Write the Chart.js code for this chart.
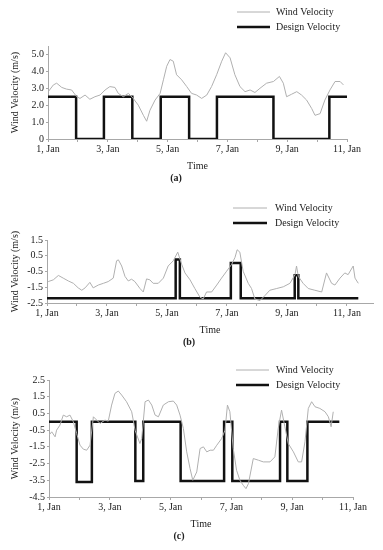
<!DOCTYPE html>
<html>
<head>
<meta charset="utf-8">
<script src="https://cdn.jsdelivr.net/npm/chart.js@4.4.1/dist/chart.umd.min.js"></script>
<style>
  body { margin: 0; background: #fff; }
  #wrap { position: relative; width: 383px; height: 550px; }
  #wrap canvas { position: absolute; left: 0; }
</style>
</head>
<body>
<div id="wrap">
  <canvas id="chartA" width="383" height="186" style="top:0px"></canvas>
  <canvas id="chartB" width="383" height="166" style="top:186px"></canvas>
  <canvas id="chartC" width="383" height="198" style="top:352px"></canvas>
</div>
<script>
// x axis: days since 1 Jan, labels every second day
const xTickDays = [0, 1, 2, 3, 4, 5, 6, 7, 8, 9, 10];
const xTickLabels = ['1, Jan', '', '3, Jan', '', '5, Jan', '', '7, Jan', '', '9, Jan', '', '11, Jan'];

// (a)
const yTicksA = [0, 1, 2, 3, 4, 5];
const yLabelsA = ['0', '1.0', '2.0', '3.0', '4.0', '5.0'];
const windDaysA = [0.01, 0.18, 0.29, 0.46, 0.62, 0.79, 0.96, 1.07, 1.24, 1.40, 1.57, 1.74, 1.91, 2.07, 2.24, 2.35,
  2.52, 2.69, 2.85, 3.02, 3.19, 3.30, 3.41, 3.58, 3.75, 3.86, 3.97, 4.08, 4.19, 4.30, 4.47, 4.64, 4.80, 4.97,
  5.14, 5.31, 5.47, 5.64, 5.81, 5.94, 6.09, 6.25, 6.42, 6.59, 6.76, 6.92, 7.09, 7.31, 7.54, 7.74, 7.87, 7.98,
  8.15, 8.32, 8.48, 8.65, 8.82, 8.93, 9.10, 9.26, 9.43, 9.60, 9.77, 9.88];
const windValsA = [2.8, 3.2, 3.3, 3.05, 2.95, 2.9, 2.5, 2.4, 2.6, 2.35, 2.5, 2.6, 2.9, 3.1, 3.05, 2.7,
  2.5, 2.7, 2.4, 2.0, 1.4, 1.05, 1.7, 2.3, 2.7, 3.5, 4.3, 4.7, 4.6, 3.8, 3.5, 3.1, 2.7, 2.6,
  2.4, 2.6, 3.1, 3.8, 4.6, 5.1, 4.8, 3.8, 3.1, 2.8, 2.9, 2.75, 3.0, 3.3, 3.4, 3.7, 3.3, 2.5,
  2.65, 2.8, 2.6, 2.3, 1.8, 1.4, 1.5, 2.3, 2.9, 3.4, 3.4, 3.2];
const designDaysA = [0, 0.94, 1.87, 2.82, 3.77, 4.72, 5.65, 7.54, 9.41, 10.0];
const designValsA = [2.5, 0, 2.5, 0, 2.5, 0, 2.5, 0, 2.5, 2.5];

// (b)
const yTicksB = [-2.5, -1.5, -0.5, 0.5, 1.5];
const yLabelsB = ['-2.5', '-1.5', '-0.5', '0.5', '1.5'];
const windDaysB = [0.04, 0.21, 0.38, 0.54, 0.71, 0.88, 1.04, 1.16, 1.27, 1.43, 1.54, 1.71, 1.88, 2.04, 2.21, 2.32,
  2.38, 2.49, 2.60, 2.71, 2.82, 2.93, 3.10, 3.21, 3.32, 3.43, 3.54, 3.71, 3.88, 4.04, 4.21, 4.36, 4.49, 4.60,
  4.77, 4.93, 5.10, 5.21, 5.32, 5.49, 5.66, 5.82, 5.99, 6.16, 6.27, 6.34, 6.43, 6.54, 6.71, 6.82, 6.93, 7.10,
  7.27, 7.43, 7.66, 7.88, 8.10, 8.27, 8.32, 8.38, 8.54, 8.71, 8.93, 9.16, 9.32, 9.49, 9.60, 9.77, 9.93, 10.04,
  10.21, 10.27, 10.38];
const windValsB = [-1.14, -1.03, -0.75, -0.92, -1.10, -1.25, -1.54, -1.69, -1.54, -1.19, -1.54, -1.36, -1.25, -1.14, -0.92, 0.18,
  0.24, -0.15, -0.81, -1.10, -0.99, -1.14, -1.58, -1.80, -0.97, -1.03, -1.25, -1.25, -0.92, -0.15, 0.18, 0.73, -0.04, -0.59,
  -1.03, -1.58, -2.13, -2.24, -1.80, -1.80, -1.36, -0.92, -0.48, -0.04, 0.40, 0.88, 0.73, -0.48, -1.25, -1.58, -2.24, -2.35,
  -2.02, -1.69, -1.58, -1.47, -1.25, -0.70, -0.15, -0.81, -1.25, -1.58, -1.69, -1.80, -0.59, -1.25, -1.36, -0.92, -0.59, -0.70,
  -0.15, -0.92, -1.25];
const designDaysB = [0, 4.29, 4.43, 6.13, 6.46, 8.26, 8.38, 10.38];
const designValsB = [-2.2, 0.26, -2.2, 0.04, -2.2, -0.74, -2.2, -2.2];

// (c)
const yTicksC = [-4.5, -3.5, -2.5, -1.5, -0.5, 0.5, 1.5, 2.5];
const yLabelsC = ['-4.5', '-3.5', '-2.5', '-1.5', '-0.5', '0.5', '1.5', '2.5'];
const windDaysC = [0, 0.09, 0.20, 0.25, 0.36, 0.47, 0.58, 0.69, 0.80, 0.91, 1.02, 1.13, 1.24, 1.35, 1.46, 1.57,
  1.68, 1.84, 1.95, 2.06, 2.17, 2.28, 2.39, 2.55, 2.72, 2.83, 2.99, 3.05, 3.16, 3.27, 3.38, 3.49, 3.60, 3.76,
  3.93, 4.09, 4.20, 4.31, 4.42, 4.53, 4.64, 4.73, 4.86, 4.97, 5.08, 5.19, 5.30, 5.41, 5.52, 5.68, 5.79, 5.87,
  5.95, 6.06, 6.17, 6.28, 6.39, 6.48, 6.56, 6.72, 6.89, 7.05, 7.27, 7.43, 7.54, 7.65, 7.76, 7.87, 8.04, 8.20,
  8.31, 8.42, 8.53, 8.64, 8.75, 8.91, 9.08, 9.19, 9.28, 9.35];
const windValsC = [-0.8, -0.6, -0.9, -0.5, -0.2, 0.4, 0.3, 0.4, 0.0, -0.7, -1.4, -1.64, -1.7, -1.4, 0.3, 0.1,
  -0.1, 0.1, 0.04, 1.0, 1.7, 1.84, 1.6, 1.2, 0.6, -0.5, -1.3, -1.0, 1.2, 1.3, 1.0, 0.4, 0.3, 1.0,
  1.2, 1.24, 1.0, 0.4, -0.4, -1.8, -2.8, -3.5, -3.0, -1.6, -1.5, -1.8, -1.7, -1.7, -1.4, -1.0, -0.5, 1.0,
  0.6, -1.6, -2.9, -3.5, -3.8, -4.0, -3.7, -2.2, -2.3, -2.4, -2.4, -2.1, -0.4, 0.7, -0.3, -1.3, -1.8, -2.4,
  -2.4, -1.2, 0.8, 1.2, 0.9, 0.8, 0.6, 0.3, -0.3, 0.6];
const designDaysC = [0, 0.91, 1.41, 2.84, 3.10, 4.33, 5.76, 6.03, 7.60, 7.84, 8.50, 9.55];
const designValsC = [0, -3.6, 0, -3.55, 0, -3.55, 0, -3.55, 0, -3.55, 0, 0];

const FONT = "'Liberation Serif', 'Times New Roman', serif";
Chart.defaults.font.family = FONT;
Chart.defaults.font.size = 10;
Chart.defaults.color = '#222';

function toPoints(xs, ys) {
  return xs.map((x, i) => ({ x: x, y: ys[i] }));
}

// two stacked line samples with dataset labels, drawn at fixed spots
const sideLegend = {
  id: 'sideLegend',
  afterDraw(chart, args, opts) {
    const ctx = chart.ctx;
    chart.data.datasets.forEach((ds, i) => {
      const y = opts.rows[i];
      ctx.save();
      ctx.strokeStyle = ds.borderColor;
      ctx.lineWidth = ds.borderWidth;
      ctx.beginPath();
      ctx.moveTo(opts.lineFrom, y);
      ctx.lineTo(opts.lineTo, y);
      ctx.stroke();
      ctx.fillStyle = '#222';
      ctx.font = '10px ' + FONT;
      ctx.textBaseline = 'middle';
      ctx.fillText(ds.label, opts.textX, y);
      ctx.restore();
    });
  }
};

function makePanel(id, p) {
  const ctx = document.getElementById(id).getContext('2d');
  return new Chart(ctx, {
    type: 'line',
    data: {
      datasets: [{
        label: 'Wind Velocity',
        data: toPoints(p.windDays, p.windVals),
        borderColor: '#b0b0b0',
        borderWidth: 1,
        pointRadius: 0,
        tension: 0
      }, {
        label: 'Design Velocity',
        data: toPoints(p.designDays, p.designVals),
        borderColor: '#111',
        borderWidth: 2.5,
        pointRadius: 0,
        stepped: 'before'
      }]
    },
    plugins: [sideLegend],
    options: {
      responsive: false,
      animation: false,
      devicePixelRatio: 1,
      layout: { padding: { top: p.padTop, left: 5, right: p.padRight, bottom: p.padBottom } },
      plugins: {
        legend: { display: false },
        tooltip: { enabled: false },
        title: {
          display: true,
          text: p.caption,
          position: 'bottom',
          padding: { top: 0, bottom: 0 },
          font: { size: 10, weight: 'bold' },
          color: '#222'
        },
        sideLegend: p.legend
      },
      scales: {
        x: {
          type: 'linear',
          min: 0,
          max: p.xMax,
          afterBuildTicks: s => { s.ticks = xTickDays.map(v => ({ value: v })); },
          afterFit: s => { s.height = 33; },
          border: { color: '#a8a8a8', width: 1 },
          grid: { drawOnChartArea: false, tickLength: 3, color: '#a8a8a8' },
          ticks: {
            autoSkip: false,
            maxRotation: 0,
            padding: 1,
            callback: (v, i) => xTickLabels[i]
          },
          title: { display: true, text: 'Time', padding: { top: 0, bottom: 0 } }
        },
        y: {
          min: p.yMin,
          max: p.yMax,
          afterBuildTicks: s => { s.ticks = p.yTicks.map(v => ({ value: v })); },
          afterFit: s => { s.width = p.yWidth; },
          border: { color: '#a8a8a8', width: 1 },
          grid: { drawOnChartArea: false, tickLength: 2, color: '#a8a8a8' },
          ticks: {
            padding: 2,
            callback: (v, i) => p.yLabels[i]
          },
          title: { display: true, text: 'Wind Velocity (m/s)', padding: { top: 4, bottom: 4 } }
        }
      }
    }
  });
}

makePanel('chartA', {
  windDays: windDaysA, windVals: windValsA, designDays: designDaysA, designVals: designValsA,
  yTicks: yTicksA, yLabels: yLabelsA, yMin: 0, yMax: 5.5, xMax: 10,
  padTop: 46, padRight: 36, padBottom: 2, yWidth: 43, caption: '(a)',
  legend: { rows: [12, 27], lineFrom: 237, lineTo: 270, textX: 276 }
});

makePanel('chartB', {
  windDays: windDaysB, windVals: windValsB, designDays: designDaysB, designVals: designValsB,
  yTicks: yTicksB, yLabels: yLabelsB, yMin: -2.5, yMax: 1.5, xMax: 10.87,
  padTop: 54, padRight: 10, padBottom: 4, yWidth: 42, caption: '(b)',
  legend: { rows: [22, 37], lineFrom: 233, lineTo: 267, textX: 275 }
});

makePanel('chartC', {
  windDays: windDaysC, windVals: windValsC, designDays: designDaysC, designVals: designValsC,
  yTicks: yTicksC, yLabels: yLabelsC, yMin: -4.5, yMax: 2.5, xMax: 10,
  padTop: 28, padRight: 30, padBottom: 8, yWidth: 44, caption: '(c)',
  legend: { rows: [18, 33], lineFrom: 236, lineTo: 269, textX: 276 }
});
</script>
</body>
</html>
